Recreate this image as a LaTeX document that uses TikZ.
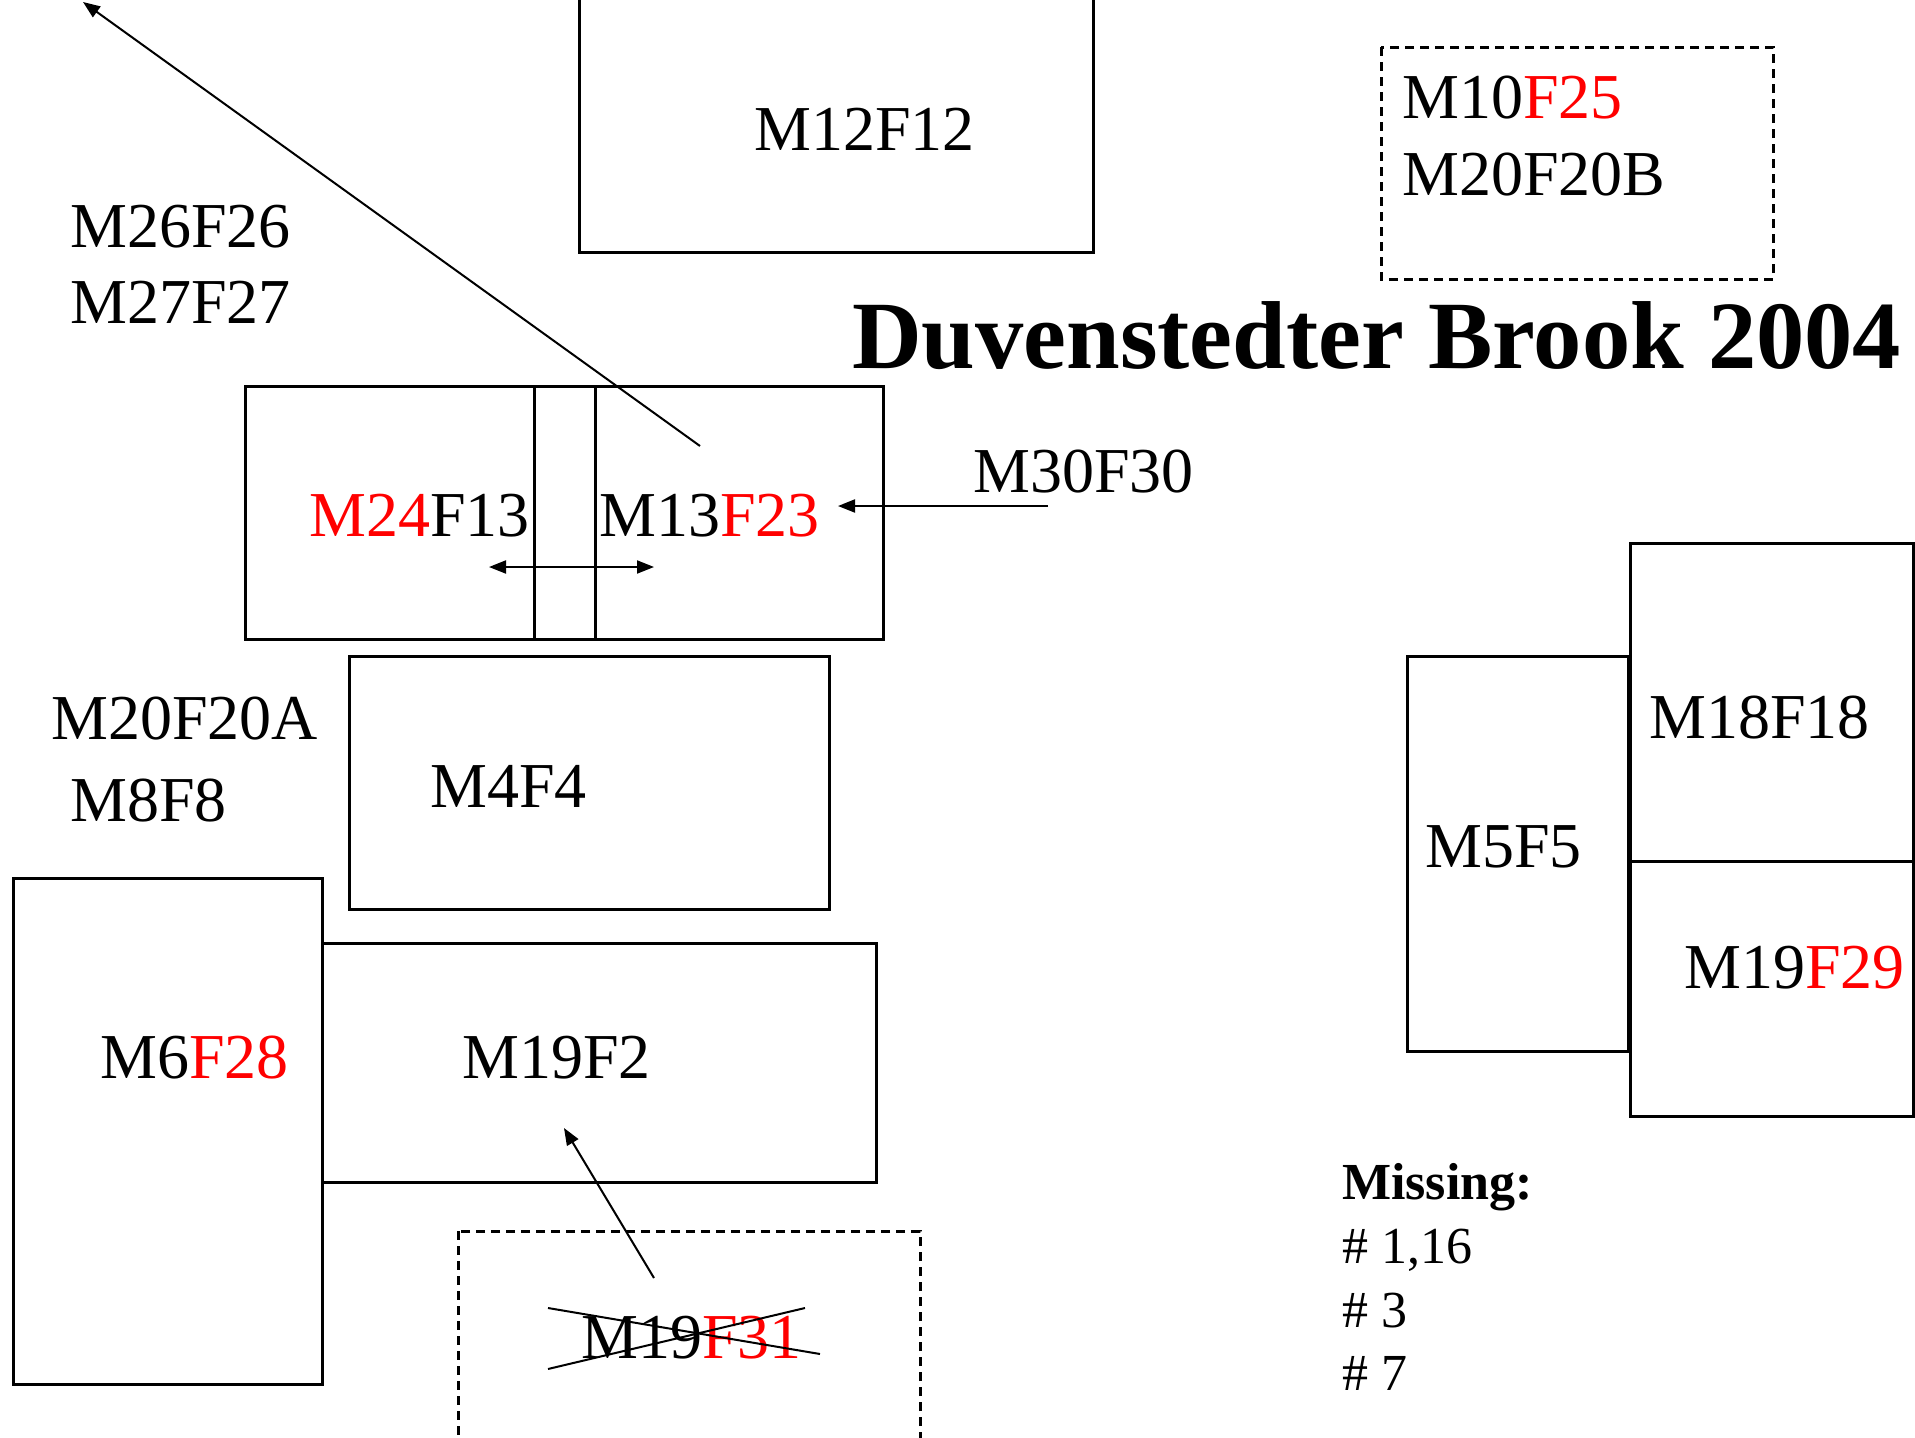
\documentclass[tikz,border=0pt]{standalone}
\usepackage{fontspec}
\setmainfont{Liberation Serif}
\usetikzlibrary{arrows.meta}
\begin{document}
\begin{tikzpicture}[x=1pt,y=-1pt,
  box/.style={draw, line width=3pt},
  dbox/.style={draw, line width=3pt, dash pattern=on 9pt off 6pt},
  lbl/.style={anchor=base west, inner sep=0pt, font=\fontsize{64}{76}\selectfont},
  small/.style={anchor=base west, inner sep=0pt, font=\fontsize{52}{64}\selectfont},
  arr/.style={line width=2pt, -{Triangle[length=17pt,width=13pt]}},
  darr/.style={line width=2pt, {Triangle[length=17pt,width=13pt]}-{Triangle[length=17pt,width=13pt]}},
  thin/.style={line width=2pt}
]
\useasboundingbox (0,0) rectangle (1915,1438);
\clip (0,0) rectangle (1915,1438);

% boxes
\draw[box] (579,-20) rectangle (1093,252);
\draw[dbox] (1381,47) rectangle (1773,279);
\draw[box] (245,386) rectangle (883,639);
\draw[box] (534,386) rectangle (595,639);
\draw[box] (349,656) rectangle (829,909);
\draw[box] (13,878) rectangle (322,1384);
\draw[box] (322,943) rectangle (876,1182);
\draw[dbox] (458,1231) rectangle (920,1480);
\draw[box] (1407,656) rectangle (1628,1051);
\draw[box] (1630,543) rectangle (1913,861);
\draw[box] (1630,861) rectangle (1913,1116);

% texts
\node[lbl] (t12) at (754,150) {M12F12};
\node[lbl] (t26) at (70,247) {M26F26};
\node[lbl] (t27) at (70,323) {M27F27};
\node[lbl] (t10) at (1402,118) {M10\textcolor{red}{F25}};
\node[lbl] (t20b) at (1402,195) {M20F20B};
\node[anchor=base west, inner sep=0pt, font=\fontsize{96.5}{110}\selectfont\bfseries] (title) at (852,368) {Duvenstedter Brook 2004};
\node[lbl] (t24) at (309,536) {\textcolor{red}{M24}F13};
\node[lbl] (t13) at (599,536) {M13\textcolor{red}{F23}};
\node[lbl] (t30) at (973,492) {M30F30};
\node[lbl] (t20a) at (51,739) {M20F20A};
\node[lbl] (t8) at (70,821) {M8F8};
\node[lbl] (t4) at (430,807) {M4F4};
\node[lbl] (t6) at (100,1078) {M6\textcolor{red}{F28}};
\node[lbl] (t19) at (462,1078) {M19F2};
\node[lbl] (t31) at (581,1358) {M19\textcolor{red}{F31}};
\node[lbl] (t5) at (1425,867) {M5F5};
\node[lbl] (t18) at (1649,738) {M18F18};
\node[lbl] (t29) at (1684,988) {M19\textcolor{red}{F29}};
\node[small, font=\fontsize{52}{64}\selectfont\bfseries] (miss) at (1342,1199) {Missing:};
\node[small] (m1) at (1342,1263) {\# 1,16};
\node[small] (m3) at (1342,1327) {\# 3};
\node[small] (m7) at (1342,1390) {\# 7};

% connectors
\coordinate (a1s) at (700,446);
\coordinate (a1e) at (83,2);
\draw[arr] (a1s) -- (a1e);
\coordinate (a2s) at (1048,506);
\coordinate (a2e) at (838,506);
\draw[arr] (a2s) -- (a2e);
\coordinate (a3s) at (489,567);
\coordinate (a3e) at (654,567);
\draw[darr] (a3s) -- (a3e);
\coordinate (a4s) at (654,1278);
\coordinate (a4e) at (564,1128);
\draw[arr] (a4s) -- (a4e);
% crossing out
\coordinate (x1a) at (548,1308);
\coordinate (x1b) at (820,1354);
\coordinate (x2a) at (548,1369);
\coordinate (x2b) at (805,1308);
\draw[thin] (x1a) -- (x1b);
\draw[thin] (x2a) -- (x2b);
\end{tikzpicture}
\end{document}
